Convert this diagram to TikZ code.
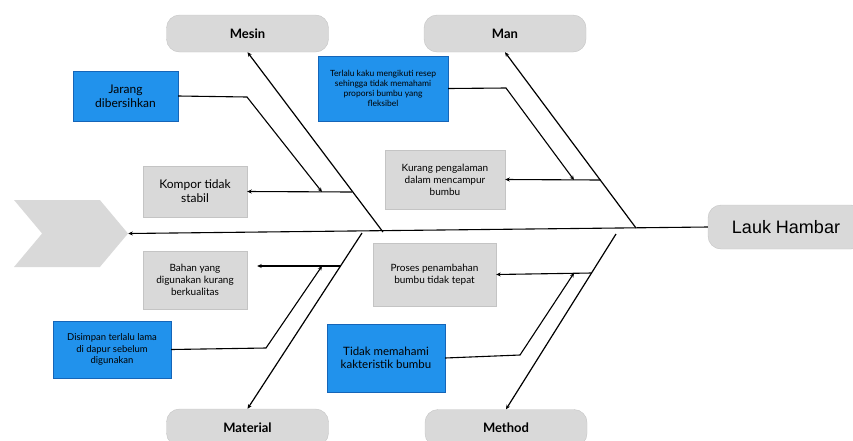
\documentclass[tikz,border=0pt]{standalone}
\usepackage{fontspec}
\setmainfont{Lato}
\newfontfamily\effectfont{Liberation Sans}
\usepackage{xcolor}
\usepackage{tikz}
\usetikzlibrary{arrows.meta,positioning,shapes.symbols,calc}

\definecolor{boxgray}{HTML}{D9D9D9}
\definecolor{edgegray}{HTML}{C4C4C4}
\definecolor{causeblue}{HTML}{2192EC}
\definecolor{edgeblue}{HTML}{1565B8}

\begin{document}
\begin{tikzpicture}[x=1pt, y=-1pt,
    category/.style={rectangle, draw=edgegray, fill=boxgray, rounded corners=13pt,
                     minimum width=162pt, minimum height=37pt,
                     font=\fontsize{13}{15}\selectfont\bfseries},
    cause/.style={rectangle, draw=edgegray, fill=boxgray, align=center,
                  inner sep=1pt, font=\fontsize{10}{12}\selectfont},
    rootcause/.style={rectangle, draw=edgeblue, fill=causeblue, align=center,
                      inner sep=1pt, font=\fontsize{10}{12}\selectfont},
    bone/.style={-{Stealth[length=4.5pt, width=4pt]}, line width=1.2pt},
    arr/.style={-{Stealth[length=4.5pt, width=4pt]}, line width=1.1pt},
]
\useasboundingbox (0,0) rectangle (853,440);

% head and effect
\node[signal, signal to=east, signal from=west, signal pointer angle=100,
      fill=boxgray, minimum width=114pt, minimum height=67pt, inner sep=0pt] (head) at (71,233.5) {};
\node[rectangle, draw=edgegray, fill=boxgray, rounded corners=13pt, minimum width=156pt,
      minimum height=44pt, font=\effectfont\fontsize{18}{20}\selectfont] (lauk) at (786,227) {Lauk Hambar};
\draw[arr] (lauk.west) -- (head.east);

% categories
\node[category] (mesin) at (247.5,33.5) {Mesin};
\node[category] (man) at (505,33.5) {Man};
\node[category] (material) at (247.5,427.5) {Material};
\node[category] (method) at (506,428) {Method};

\coordinate (mesinroot) at (383,232);
\coordinate (manroot) at (636,228);
\coordinate (materialroot) at (362,233);
\coordinate (methodroot) at (616,234);
\draw[bone] (mesinroot) -- (mesin.south);
\draw[bone] (manroot) -- (man.south);
\draw[bone] (materialroot) -- (material.north);
\draw[bone] (methodroot) -- (method.north);

% Mesin
\node[cause, minimum width=104pt, minimum height=51pt, font=\fontsize{12}{14}\selectfont] (kompor) at (195,191.5) {Kompor tidak\\stabil};
\node[rootcause, minimum width=105pt, minimum height=50pt, font=\fontsize{12}{14}\selectfont] (jarang) at (125.5,96) {Jarang\\dibersihkan};
\coordinate (mesinb) at (352,192);
\draw[arr] (mesinb) -- (kompor.east);
\coordinate (jarangk) at (247,97);
\coordinate (jarangt) at (322,192);
\draw[arr] (jarang.east) -- (jarangk) -- (jarangt);

% Man
\node[rootcause, minimum width=130pt, minimum height=65pt, font=\fontsize{8.5}{10}\selectfont] (kaku) at (383,88.5) {Terlalu kaku mengikuti resep\\sehingga tidak memahami\\proporsi bumbu yang\\fleksibel};
\node[cause, minimum width=120pt, minimum height=59pt] (kurang) at (445,179.5) {Kurang pengalaman\\dalam mencampur\\bumbu};
\coordinate (manb) at (600.5,180);
\draw[arr] (manb) -- (kurang.east);
\coordinate (kakuk) at (506,88);
\coordinate (kakut) at (574,180);
\draw[arr] (kaku.east) -- (kakuk) -- (kakut);

% Material
\node[cause, minimum width=104pt, minimum height=58pt] (bahan) at (195,280) {Bahan yang\\digunakan kurang\\berkualitas};
\node[rootcause, minimum width=118pt, minimum height=57pt, font=\fontsize{9.5}{11.5}\selectfont] (disimpan) at (112,349.5) {Disimpan terlalu lama\\di dapur sebelum\\digunakan};
\coordinate (materialb) at (341,266);
\draw[arr] (materialb) -- ([xshift=10pt]materialb -| bahan.east);
\coordinate (disimpank) at (266,348);
\coordinate (disimpant) at (322,266);
\draw[arr] (disimpan.east) -- (disimpank) -- (disimpant);

% Method
\node[cause, minimum width=123pt, minimum height=63pt] (proses) at (434.5,274.5) {Proses penambahan\\bumbu tidak tepat};
\node[rootcause, minimum width=118pt, minimum height=68pt, font=\fontsize{11.5}{13.5}\selectfont] (tidak) at (386,358) {Tidak memahami\\kakteristik bumbu};
\coordinate (methodb) at (591.5,273);
\draw[arr] (methodb) -- (proses.east);
\coordinate (tidakk) at (520,355);
\coordinate (tidakt) at (574,273);
\draw[arr] (tidak.east) -- (tidakk) -- (tidakt);
\end{tikzpicture}
\end{document}
